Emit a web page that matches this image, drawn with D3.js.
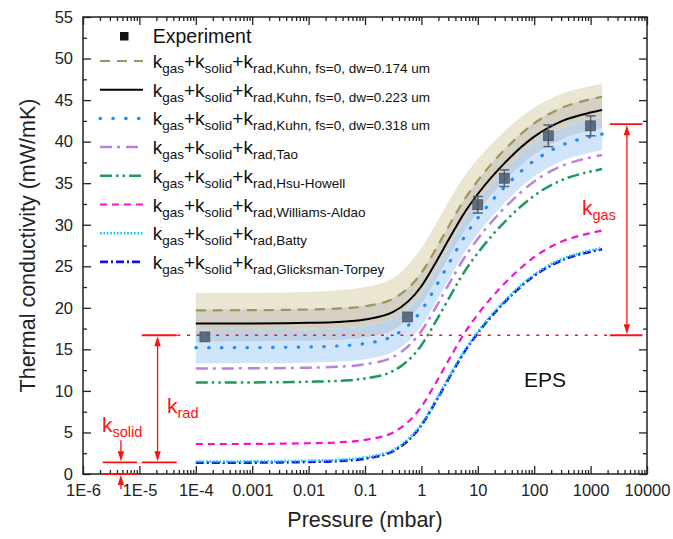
<!DOCTYPE html>
<html><head><meta charset="utf-8">
<script src="https://cdn.jsdelivr.net/npm/d3@7"></script>
<style>
body{margin:0;background:#fff}
svg{display:block}
text{font-family:Arial,"Liberation Sans",sans-serif}
</style>
</head><body>
<svg id="chart" width="673" height="539"></svg>
<script>
// Pressure grid (mbar) shared by all model curves
const pressure = [1e-4, 1e-3, 1e-2, 0.0316, 0.1, 0.316, 1, 1.78, 3.16, 5.62, 10, 31.6, 100, 316, 1000, 1600];

// Model curves: k_gas + k_solid + k_rad (mW/mK)
const kuhn174   = [19.7, 19.72, 19.8, 19.9, 20.2, 21.1, 24.2, 27.0, 30.0, 32.9, 35.3, 39.2, 42.2, 44.1, 45.1, 45.4];
const kuhn223   = [18.1, 18.12, 18.2, 18.3, 18.6, 19.5, 22.6, 25.4, 28.4, 31.3, 33.7, 37.6, 40.6, 42.5, 43.5, 43.8];
const kuhn318   = [15.2, 15.22, 15.3, 15.4, 15.7, 16.6, 19.7, 22.5, 25.5, 28.4, 30.8, 34.7, 37.7, 39.6, 40.6, 40.9];
const tao       = [12.7, 12.72, 12.8, 12.9, 13.2, 14.1, 17.2, 20.0, 23.0, 25.9, 28.3, 32.2, 35.2, 37.1, 38.1, 38.4];
const hsuHowell = [11.0, 11.02, 11.1, 11.2, 11.5, 12.4, 15.5, 18.3, 21.3, 24.2, 26.6, 30.5, 33.5, 35.4, 36.4, 36.7];
const williamsAldao = [3.6, 3.62, 3.7, 3.8, 4.1, 5.0, 8.1, 10.9, 13.9, 16.8, 19.2, 23.1, 26.1, 28.0, 29.0, 29.3];
const batty     = [1.5, 1.52, 1.6, 1.7, 2.0, 2.9, 6.0, 8.8, 11.8, 14.7, 17.1, 21.0, 24.0, 25.9, 26.9, 27.2];
const glicksmanTorpey = [1.35, 1.37, 1.45, 1.55, 1.85, 2.75, 5.85, 8.65, 11.65, 14.55, 16.95, 20.85, 23.85, 25.75, 26.75, 27.05];

// Uncertainty band boundaries (top to bottom)
const bandTop    = [21.8, 21.8, 21.9, 22.1, 22.5, 23.6, 27.2, 30.0, 33.0, 35.7, 37.9, 41.4, 44.1, 45.8, 46.7, 47.0];
const bandEdge1  = [19.8, 19.82, 19.9, 20.0, 20.3, 21.2, 24.3, 27.1, 30.1, 33.0, 35.4, 39.3, 42.3, 44.2, 45.2, 45.5];
const bandEdge2  = [17.3, 17.32, 17.4, 17.5, 17.8, 18.7, 21.8, 24.6, 27.6, 30.5, 32.9, 36.8, 39.8, 41.7, 42.7, 43.0];
const bandEdge3  = [15.9, 15.92, 16.0, 16.1, 16.4, 17.3, 20.4, 23.2, 26.2, 29.1, 31.5, 35.4, 38.4, 40.3, 41.3, 41.6];
const bandBottom = [13.3, 13.32, 13.4, 13.5, 13.8, 14.7, 17.8, 20.6, 23.6, 26.5, 28.9, 32.8, 35.8, 37.7, 38.7, 39.0];

// Measurements
const expPressure = [1.45e-4, 0.57, 10, 29.5, 178, 1000];
const expValue    = [16.5, 18.9, 32.4, 35.6, 40.7, 41.9];
const expError    = [0, 0, 1.0, 1.0, 1.3, 1.2];

// Axis ticks
const xTickValues = [1e-6, 1e-5, 1e-4, 1e-3, 1e-2, 1e-1, 1, 10, 100, 1000, 10000];
const xTickLabels = ["1E-6", "1E-5", "1E-4", "0.001", "0.01", "0.1", "1", "10", "100", "1000", "10000"];
const yTickValues = [0, 5, 10, 15, 20, 25, 30, 35, 40, 45, 50, 55];

// Conductivity contributions marked on the chart
const kSolidLevel = 1.4;
const kRadLevel = 16.7;
const kGasLevel = 42.1;

const legendNames = [
  "rad,Kuhn, fs=0, dw=0.174 um",
  "rad,Kuhn, fs=0, dw=0.223 um",
  "rad,Kuhn, fs=0, dw=0.318 um",
  "rad,Tao",
  "rad,Hsu-Howell",
  "rad,Williams-Aldao",
  "rad,Batty",
  "rad,Glicksman-Torpey"
];
const seriesValues = [kuhn174, kuhn223, kuhn318, tao, hsuHowell, williamsAldao, batty, glicksmanTorpey];

const styles = [
  {color: "#9d955a", width: 2.2, dash: "10,7", cap: "butt"},
  {color: "#000000", width: 2, dash: null, cap: "butt"},
  {color: "#1a8cff", width: 3.2, dash: "0.5,12.3", cap: "round"},
  {color: "#b983dc", width: 2.5, dash: "12,5,3,6", cap: "butt"},
  {color: "#1d9a5c", width: 2.5, dash: "12,4,2.5,4,2.5,4", cap: "butt"},
  {color: "#f014cc", width: 2.2, dash: "7,5", cap: "butt"},
  {color: "#12c6f2", width: 2.6, dash: "1.6,1.8", cap: "butt"},
  {color: "#1515d8", width: 2.6, dash: "8,3,2,3", cap: "butt"}
];

const svg = d3.select("#chart");
const W = 673, H = 539;
const m = {left: 83, right: 647, top: 17, bottom: 474};

const x = d3.scaleLog().domain([1e-6, 1e4]).range([m.left, m.right]);
const y = d3.scaleLinear().domain([0, 55]).range([m.bottom, m.top]);

svg.append("rect").attr("width", W).attr("height", H).attr("fill", "#fff");

// Bands
const bandLayers = [
  {hi: bandTop, lo: bandEdge1, color: "#ebe6d2"},
  {hi: bandEdge1, lo: bandEdge2, color: "#d4d0c3"},
  {hi: bandEdge2, lo: bandEdge3, color: "#bfd1e4"},
  {hi: bandEdge3, lo: bandBottom, color: "#d1e5fa"}
];
bandLayers.forEach(b => {
  const area = d3.area()
    .x((d, i) => x(pressure[i]))
    .y0((d, i) => y(b.lo[i]))
    .y1((d, i) => y(b.hi[i]))
    .curve(d3.curveMonotoneX);
  svg.append("path").datum(pressure).attr("d", area).attr("fill", b.color);
});

// Red reference line at the k_rad + k_solid level
const red = "#ff1010";
svg.append("line")
  .attr("x1", x(4.7e-5)).attr("x2", x(2150))
  .attr("y1", y(kRadLevel)).attr("y2", y(kRadLevel))
  .attr("stroke", red).attr("stroke-width", 1.6).attr("stroke-dasharray", "3,6.7");

// Model curves
const line = vals => d3.line()
  .x((d, i) => x(pressure[i]))
  .y((d, i) => y(vals[i]))
  .curve(d3.curveMonotoneX)(pressure);

const drawOrder = [0, 1, 2, 3, 4, 5, 7, 6];
drawOrder.forEach(k => {
  const s = styles[k];
  svg.append("path")
    .attr("d", line(seriesValues[k]))
    .attr("fill", "none")
    .attr("stroke", s.color)
    .attr("stroke-width", s.width)
    .attr("stroke-linecap", s.cap)
    .attr("stroke-dasharray", s.dash);
});

// Measurements with error bars
const eb = svg.append("g");
expPressure.forEach((p, i) => {
  if (expError[i] > 0) {
    const cx = x(p), yt = y(expValue[i] + expError[i]), yb = y(expValue[i] - expError[i]);
    eb.append("line").attr("x1", cx).attr("x2", cx).attr("y1", yt).attr("y2", yb)
      .attr("stroke", "#56626f").attr("stroke-width", 1.5);
    [yt, yb].forEach(yy => eb.append("line").attr("x1", cx - 5).attr("x2", cx + 5)
      .attr("y1", yy).attr("y2", yy).attr("stroke", "#56626f").attr("stroke-width", 1.5));
  }
});
expPressure.forEach((p, i) => {
  svg.append("rect")
    .attr("x", x(p) - 5).attr("y", y(expValue[i]) - 5)
    .attr("width", 10).attr("height", 10)
    .attr("fill", "#4a5b6c").attr("fill-opacity", 0.85)
    .attr("stroke", "#3e4a57").attr("stroke-width", 0.6);
});

// Axes: major and minor ticks on all four sides, pointing inward
const minorX = [];
for (let e = -6; e < 4; e++) for (let k = 2; k <= 9; k++) minorX.push(k * Math.pow(10, e));
const minorY = d3.range(2.5, 55, 5);

const axisColor = "#222";
function styleAxis(g) {
  g.select(".domain").remove();
  g.selectAll("line").attr("stroke", axisColor).attr("stroke-width", 1.3);
  g.selectAll("text").attr("fill", "#222").attr("font-size", 16.5)
    .attr("font-family", "Arial, 'Liberation Sans', sans-serif");
}
svg.append("g").attr("transform", `translate(0,${m.bottom})`)
  .call(d3.axisBottom(x).tickValues(xTickValues).tickSize(-8).tickPadding(10)
    .tickFormat((d, i) => xTickLabels[i])).call(styleAxis);
svg.append("g").attr("transform", `translate(0,${m.bottom})`)
  .call(d3.axisBottom(x).tickValues(minorX).tickSize(-4).tickFormat("")).call(styleAxis);
svg.append("g").attr("transform", `translate(0,${m.top})`)
  .call(d3.axisTop(x).tickValues(xTickValues).tickSize(-8).tickFormat("")).call(styleAxis);
svg.append("g").attr("transform", `translate(0,${m.top})`)
  .call(d3.axisTop(x).tickValues(minorX).tickSize(-4).tickFormat("")).call(styleAxis);
svg.append("g").attr("transform", `translate(${m.left},0)`)
  .call(d3.axisLeft(y).tickValues(yTickValues).tickSize(-8).tickPadding(10)).call(styleAxis);
svg.append("g").attr("transform", `translate(${m.left},0)`)
  .call(d3.axisLeft(y).tickValues(minorY).tickSize(-4).tickFormat("")).call(styleAxis);
svg.append("g").attr("transform", `translate(${m.right},0)`)
  .call(d3.axisRight(y).tickValues(yTickValues).tickSize(-8).tickFormat("")).call(styleAxis);
svg.append("g").attr("transform", `translate(${m.right},0)`)
  .call(d3.axisRight(y).tickValues(minorY).tickSize(-4).tickFormat("")).call(styleAxis);

svg.append("rect")
  .attr("x", m.left).attr("y", m.top)
  .attr("width", m.right - m.left).attr("height", m.bottom - m.top)
  .attr("fill", "none").attr("stroke", axisColor).attr("stroke-width", 1.5);

// Axis titles
svg.append("text").attr("x", (m.left + m.right) / 2).attr("y", 527)
  .attr("text-anchor", "middle").attr("font-size", 21.5).attr("fill", "#222")
  .text("Pressure (mbar)");
svg.append("text").attr("transform", `translate(35,${(m.top + m.bottom) / 2}) rotate(-90)`)
  .attr("text-anchor", "middle").attr("font-size", 21.5).attr("fill", "#222")
  .text("Thermal conductivity (mW/mK)");

// Legend
const lg = svg.append("g");
lg.append("rect").attr("x", 120).attr("y", 32).attr("width", 8.5).attr("height", 8.5).attr("fill", "#111");
lg.append("text").attr("x", 152.7).attr("y", 43).attr("font-size", 19.5).attr("fill", "#111").text("Experiment");

legendNames.forEach((name, i) => {
  const ly = 61 + 28.7 * i;
  const s = styles[i];
  lg.append("line").attr("x1", 100).attr("x2", 143).attr("y1", ly).attr("y2", ly)
    .attr("stroke", s.color).attr("stroke-width", s.width)
    .attr("stroke-linecap", s.cap).attr("stroke-dasharray", s.dash);
  const t = lg.append("text").attr("x", 152.7).attr("y", ly + 7).attr("font-size", 19).attr("fill", "#111");
  t.append("tspan").text("k");
  t.append("tspan").attr("font-size", 13.5).attr("dy", 5).text("gas");
  t.append("tspan").attr("dy", -5).text("+k");
  t.append("tspan").attr("font-size", 13.5).attr("dy", 5).text("solid");
  t.append("tspan").attr("dy", -5).text("+k");
  t.append("tspan").attr("font-size", 13.5).attr("dy", 5).text(name);
});

// Annotations for the individual contributions
const ann = svg.append("g");
function hline(p1, p2, v) {
  ann.append("line").attr("x1", x(p1)).attr("x2", x(p2)).attr("y1", y(v)).attr("y2", y(v))
    .attr("stroke", red).attr("stroke-width", 1.8);
}
function arrowHead(px, py, dir) {
  // dir: +1 points down, -1 points up
  const h = 10 * dir, w = 3.2;
  ann.append("path")
    .attr("d", `M${px},${py} L${px - w},${py - h} L${px + w},${py - h} Z`)
    .attr("fill", red);
}
function vline(px, y1, y2) {
  ann.append("line").attr("x1", px).attr("x2", px).attr("y1", y1).attr("y2", y2)
    .attr("stroke", red).attr("stroke-width", 1.3);
}
function label(px, py, sub) {
  const t = ann.append("text").attr("x", px).attr("y", py).attr("font-size", 21).attr("fill", red);
  t.append("tspan").text("k");
  t.append("tspan").attr("font-size", 14.5).attr("dy", 5).text(sub);
}

// k_solid
hline(2.25e-6, 9.1e-6, kSolidLevel);
hline(2.25e-6, 9.1e-6, 0);
const xs = x(4.7e-6);
vline(xs, y(kSolidLevel) - 22, y(kSolidLevel) - 6);
arrowHead(xs, y(kSolidLevel) - 1, 1);
vline(xs, y(0) + 8, y(0) + 15);
arrowHead(xs, y(0) + 1, -1);
label(102, 432, "solid");

// k_rad
hline(1.1e-5, 4.6e-5, kSolidLevel);
hline(1.1e-5, 4.6e-5, kRadLevel);
const xr = x(2.1e-5);
vline(xr, y(kRadLevel) + 8, y(kSolidLevel) - 8);
arrowHead(xr, y(kRadLevel) + 1, -1);
arrowHead(xr, y(kSolidLevel) - 1, 1);
label(167, 413, "rad");

// k_gas
hline(2200, 8300, kRadLevel);
hline(2200, 8300, kGasLevel);
const xg = x(4400);
vline(xg, y(kGasLevel) + 8, y(kRadLevel) - 8);
arrowHead(xg, y(kGasLevel) + 1, -1);
arrowHead(xg, y(kRadLevel) - 1, 1);
label(582, 215, "gas");

// Material label
svg.append("text").attr("x", 545).attr("y", 387).attr("text-anchor", "middle")
  .attr("font-size", 21).attr("fill", "#111").text("EPS");
</script>
</body></html>
